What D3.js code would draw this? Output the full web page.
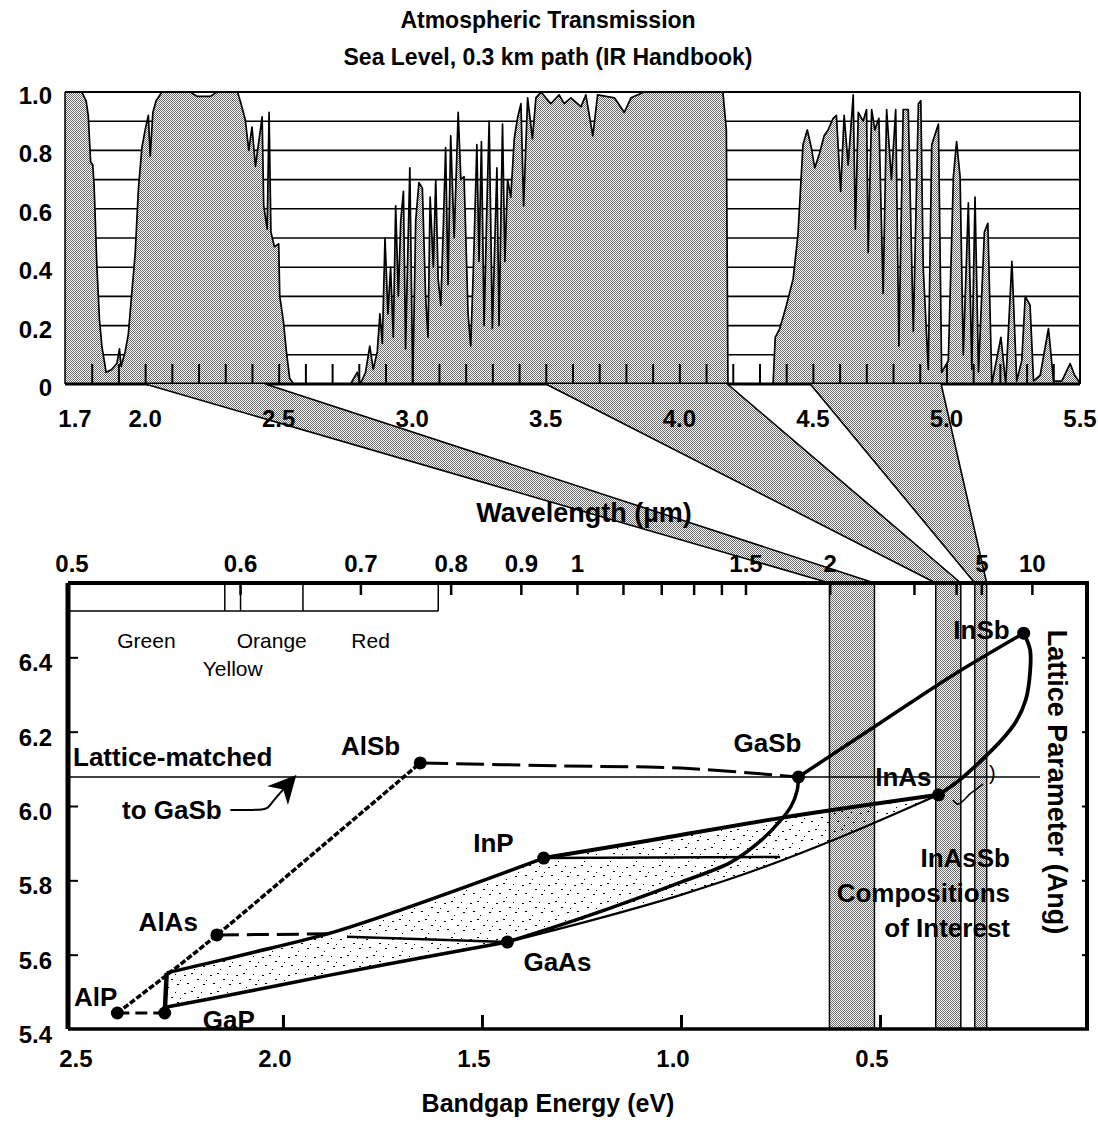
<!DOCTYPE html>
<html>
<head>
<meta charset="utf-8">
<script src="https://cdn.jsdelivr.net/npm/d3@7"></script>
<style>
  body { margin: 0; background: #fff; }
  svg { display: block; }
  text { font-family: "Liberation Sans", Arial, sans-serif; font-weight: bold; fill: #000; }
</style>
</head>
<body>
<svg id="chart" width="1098" height="1128"></svg>
<script>
// ---- top panel: atmospheric transmission ----
var wavelength = [1.700,1.763,1.779,1.787,1.796,1.804,1.809,1.819,1.829,1.838,1.854,1.875,1.894,1.904,1.910,1.925,1.937,1.950,1.963,1.975,
  1.988,2.000,2.012,2.019,2.029,2.041,2.063,2.169,2.194,2.244,2.269,2.346,2.359,2.375,2.388,2.400,2.413,2.438,2.444,2.457,
  2.464,2.471,2.484,2.500,2.504,2.517,2.529,2.541,2.556,2.769,2.794,2.806,2.825,2.841,2.854,2.869,2.879,2.888,2.898,2.909,
  2.919,2.929,2.938,2.948,2.957,2.967,2.975,2.991,3.002,3.013,3.025,3.038,3.050,3.059,3.067,3.079,3.088,3.097,3.107,3.117,
  3.125,3.134,3.144,3.157,3.172,3.182,3.194,3.209,3.219,3.229,3.242,3.250,3.259,3.269,3.279,3.288,3.300,3.317,3.325,3.338,
  3.347,3.357,3.369,3.382,3.394,3.407,3.417,3.432,3.450,3.463,3.482,3.519,3.550,3.569,3.594,3.632,3.650,3.676,3.694,3.757,
  3.794,3.819,3.869,4.163,4.176,4.182,4.351,4.359,4.376,4.401,4.426,4.444,4.463,4.479,4.494,4.507,4.525,4.542,4.557,4.576,
  4.588,4.604,4.617,4.632,4.651,4.659,4.670,4.688,4.701,4.707,4.720,4.732,4.747,4.763,4.776,4.794,4.810,4.822,4.838,4.857,
  4.876,4.895,4.904,4.913,4.932,4.945,4.970,4.982,5.007,5.026,5.038,5.051,5.063,5.082,5.095,5.107,5.120,5.142,5.155,5.170,
  5.204,5.222,5.245,5.263,5.282,5.295,5.313,5.326,5.351,5.382,5.401,5.432,5.463,5.480,5.495,5.500];
var transmission = [1.00,1.00,0.97,0.92,0.76,0.75,0.68,0.41,0.22,0.13,0.04,0.05,0.07,0.12,0.06,0.11,0.17,0.31,0.45,0.67,
  0.81,0.87,0.92,0.78,0.93,0.97,1.00,1.00,0.985,0.985,1.00,1.00,0.96,0.905,0.80,0.88,0.745,0.915,0.61,0.53,
  0.93,0.52,0.47,0.48,0.30,0.22,0.11,0.02,0.00,0.00,0.04,0.00,0.04,0.13,0.05,0.11,0.24,0.14,0.50,0.24,
  0.40,0.16,0.61,0.30,0.56,0.66,0.12,0.74,0.00,0.56,0.69,0.67,0.30,0.16,0.64,0.40,0.70,0.36,0.27,0.56,
  0.81,0.34,0.85,0.50,0.93,0.70,0.71,0.24,0.13,0.40,0.82,0.42,0.83,0.20,0.59,0.90,0.19,0.74,0.20,0.89,
  0.42,0.70,0.64,0.84,0.91,0.96,0.61,0.98,0.84,0.98,1.00,0.96,0.99,0.96,0.98,0.95,0.99,0.85,0.99,0.98,
  0.93,0.98,1.00,1.00,0.87,0.00,0.00,0.16,0.19,0.27,0.36,0.51,0.82,0.87,0.81,0.74,0.79,0.85,0.87,0.91,
  0.92,0.66,0.92,0.75,0.99,0.53,0.93,0.90,0.94,0.45,0.94,0.87,0.91,0.31,0.94,0.70,0.94,0.13,0.94,0.94,
  0.18,0.96,0.97,0.40,0.05,0.82,0.89,0.04,0.08,0.71,0.83,0.71,0.10,0.62,0.05,0.64,0.04,0.52,0.55,0.00,
  0.16,0.00,0.42,0.01,0.08,0.30,0.27,0.01,0.03,0.19,0.01,0.01,0.07,0.03,0.01,0.00];
var topTickLabels = [1.7, 2.0, 2.5, 3.0, 3.5, 4.0, 4.5, 5.0, 5.5];
var topYLabels = [0, 0.2, 0.4, 0.6, 0.8, 1.0];

// transmission windows (um) and the matching bandgap bands (eV)
var windowsUm = [[2.0, 2.45], [3.5, 4.18], [4.49, 4.98]];
var bandsEV = [[0.627, 0.514], [0.36, 0.297], [0.262, 0.232]];

// ---- bottom panel: bandgap vs lattice parameter ----
var compounds = ["AlP", "GaP", "AlAs", "AlSb", "InP", "GaAs", "GaSb", "InAs", "InSb"];
var gapEV = [2.416, 2.297, 2.166, 1.655, 1.345, 1.436, 0.705, 0.353, 0.139];
var latticeA = [5.443, 5.443, 5.653, 6.116, 5.860, 5.634, 6.078, 6.030, 6.465];

var curveAlAsSb = [[2.416,5.443],[2.285,5.551],[2.166,5.653],[1.907,5.887],[1.655,6.116]];
var curveAlGaP = [[2.416,5.443],[2.297,5.443]];
var curveGaPstep = [[2.297,5.443],[2.292,5.551]];
var curveAlGaAsDash = [[2.166,5.653],[1.882,5.656]];
var curveAlGaAsSolid = [[1.839,5.648],[1.436,5.634]];
var curveAlGaSb = [[1.655,6.116],[1.302,6.108],[1.0,6.102],[0.705,6.078]];
var curveUpper = [[2.292,5.551],[2.083,5.604],[1.882,5.658],[1.705,5.720],[1.529,5.787],[1.345,5.860]];
var curveInPInAs = [[1.345,5.860],[1.076,5.908],[0.748,5.968],[0.353,6.030]];
var curveInPMatched = [[1.345,5.860],[0.751,5.863]];
var curveLower = [[2.292,5.459],[2.083,5.502],[1.882,5.545],[1.655,5.591],[1.436,5.634]];
var curveGaInAs = [[1.436,5.634],[1.202,5.699],[1.0,5.761],[0.798,5.833],[0.597,5.917],[0.353,6.030]];
var curveGaAsSb = [[1.436,5.634],[1.302,5.680],[1.176,5.726],[1.0,5.795],[0.874,5.849],[0.798,5.908],[0.753,5.957],[0.723,6.000],[0.708,6.043],[0.705,6.078]];
var curveGaInSb = [[0.705,6.078],[0.496,6.226],[0.320,6.350],[0.139,6.465]];
var curveInAsSb = [[0.139,6.465],[0.123,6.420],[0.123,6.360],[0.134,6.285],[0.159,6.226],[0.194,6.178],[0.244,6.124],[0.300,6.070],[0.353,6.030]];
var curveSquiggle = [[0.317,6.016],[0.304,6.005],[0.271,6.035],[0.241,6.059]];
var latticeMatchLine = [[2.537,6.078],[0.098,6.078]];
var arrowPts = [[2.132,5.989],[2.037,6.000],[1.971,6.078]];

var energyTicks = [2.0, 1.5, 1.0, 0.5];
var energyLabels = [2.5, 2.0, 1.5, 1.0, 0.5];
var latticeTicks = [5.6, 5.8, 6.0, 6.2, 6.4];
var latticeLabels = [5.4, 5.6, 5.8, 6.0, 6.2, 6.4];
var wlTicks = [0.6, 0.7, 0.8, 0.9, 1, 1.1, 1.2, 1.3, 1.4, 1.5, 2, 3, 4, 5, 10];
var wlLabels = [0.5, 0.6, 0.7, 0.8, 0.9, 1, 1.5, 2, 5, 10];
var colorEdges = [0.589, 0.6, 0.648, 0.784];
var colorNames = ["Green", "Yellow", "Orange", "Red"];

var svg = d3.select("#chart");
var defs = svg.append("defs");

// stippled fill like the scanned halftone
var pat = defs.append("pattern").attr("id", "stip").attr("width", 2).attr("height", 2)
    .attr("patternUnits", "userSpaceOnUse");
pat.append("rect").attr("width", 2).attr("height", 2).attr("fill", "#fff");
pat.append("rect").attr("x", 0).attr("y", 0).attr("width", 1).attr("height", 1).attr("fill", "#6a6a6a");
pat.append("rect").attr("x", 1).attr("y", 1).attr("width", 1).attr("height", 1).attr("fill", "#6a6a6a");

var sp = defs.append("pattern").attr("id", "sparse").attr("width", 26).attr("height", 18)
    .attr("patternUnits", "userSpaceOnUse");
[[2,3,2,1],[9,1,2,1],[15,7,2,1],[21,12,2,1],[5,11,2,1],[12,15,1,1],[19,2,1,1],[24,8,1,1]].forEach(function (r) {
  sp.append("rect").attr("x", r[0]).attr("y", r[1]).attr("width", r[2]).attr("height", r[3]).attr("fill", "#000");
});

defs.append("marker").attr("id", "arrowhead").attr("viewBox", "0 0 10 10").attr("refX", 9).attr("refY", 5)
    .attr("markerWidth", 28).attr("markerHeight", 28).attr("markerUnits", "userSpaceOnUse")
    .attr("orient", "auto")
  .append("path").attr("d", "M0,0 L10,5 L0,10 L3,5 Z").attr("fill", "#000");

// ---------------- top panel ----------------
var xT = d3.scaleLinear().domain([1.7, 5.5]).range([65, 1080]);
var yT = d3.scaleLinear().domain([0, 1]).range([384, 92]);
var spec = wavelength.map(function (w, i) { return [w, transmission[i]]; });

svg.append("text").attr("x", 548).attr("y", 28).attr("text-anchor", "middle")
    .style("font-size", "23px").text("Atmospheric Transmission");
svg.append("text").attr("x", 548).attr("y", 65).attr("text-anchor", "middle")
    .style("font-size", "23px").text("Sea Level, 0.3 km path (IR Handbook)");

var topG = svg.append("g");
topG.selectAll("line.grid").data(d3.range(1, 10).map(function (i) { return i / 10; }))
  .enter().append("line").attr("class", "grid")
    .attr("x1", xT(1.7)).attr("x2", xT(5.5))
    .attr("y1", function (d) { return yT(d); }).attr("y2", function (d) { return yT(d); })
    .attr("stroke", "#000").attr("stroke-width", 1.6);

topG.append("path").datum(spec)
    .attr("d", d3.area().x(function (d) { return xT(d[0]); }).y0(yT(0)).y1(function (d) { return yT(d[1]); }))
    .attr("fill", "url(#stip)");
topG.append("path").datum(spec)
    .attr("d", d3.line().x(function (d) { return xT(d[0]); }).y(function (d) { return yT(d[1]); }))
    .attr("fill", "none").attr("stroke", "#000").attr("stroke-width", 1.7).attr("stroke-linejoin", "round");

// frame
topG.append("line").attr("x1", xT(1.7)).attr("x2", xT(5.5)).attr("y1", yT(1)).attr("y2", yT(1))
    .attr("stroke", "#000").attr("stroke-width", 2);
topG.append("line").attr("x1", xT(1.7)).attr("x2", xT(5.5)).attr("y1", yT(0)).attr("y2", yT(0))
    .attr("stroke", "#000").attr("stroke-width", 3);
topG.append("line").attr("x1", xT(5.5)).attr("x2", xT(5.5)).attr("y1", yT(1)).attr("y2", yT(0))
    .attr("stroke", "#000").attr("stroke-width", 2);
topG.append("line").attr("x1", xT(1.7)).attr("x2", xT(1.7)).attr("y1", yT(1)).attr("y2", yT(0))
    .attr("stroke", "#000").attr("stroke-width", 1.5);

var xTicksTop = d3.axisTop(xT).tickValues(d3.range(18, 55).map(function (i) { return i / 10; }))
    .tickSize(20).tickFormat("");
var gxT = topG.append("g").attr("transform", "translate(0," + yT(0) + ")").call(xTicksTop);
gxT.select(".domain").remove();
gxT.selectAll("line").attr("stroke", "#000").attr("stroke-width", 2);

topG.selectAll("text.ylab").data(topYLabels).enter().append("text").attr("class", "ylab")
    .attr("x", 52).attr("y", function (d) { return yT(d) + 12; })
    .attr("text-anchor", "end").style("font-size", "24px")
    .text(function (d) { return d === 0 ? "0" : d.toFixed(1); });

// ---------------- wedges between panels ----------------
var xE = d3.scaleLinear().domain([2.54, -0.02]).range([68, 1087]);
var yA = d3.scaleLinear().domain([5.4, 6.6]).range([1029, 583]);
var xW = d3.scaleLinear().domain([2.49, -0.01]).range([68, 1087]);
function wlX(um) { return xW(1.24 / um); }

var wedges = svg.append("g");
windowsUm.forEach(function (w, i) {
  var b = bandsEV[i];
  var pts = [[xT(w[0]), yT(0)], [xT(w[1]), yT(0)], [xE(b[1]), yA(6.6)], [xE(b[0]), yA(6.6)]];
  wedges.append("path").attr("d", "M" + pts.join("L") + "Z")
      .attr("fill", "url(#stip)").attr("stroke", "none");
  wedges.append("line").attr("x1", pts[0][0]).attr("y1", pts[0][1]).attr("x2", pts[3][0]).attr("y2", pts[3][1])
      .attr("stroke", "#000").attr("stroke-width", 1.6);
  wedges.append("line").attr("x1", pts[1][0]).attr("y1", pts[1][1]).attr("x2", pts[2][0]).attr("y2", pts[2][1])
      .attr("stroke", "#000").attr("stroke-width", 1.6);
});

svg.selectAll("text.xlabT").data(topTickLabels).enter().append("text").attr("class", "xlabT")
    .attr("x", function (d, i) { return xT(d) + (i === 0 ? 10 : 0); }).attr("y", 427)
    .attr("text-anchor", "middle").style("font-size", "24px")
    .text(function (d) { return d.toFixed(1); });

svg.append("text").attr("x", 584).attr("y", 522).attr("text-anchor", "middle")
    .style("font-size", "27px").text("Wavelength (\u00b5m)");

// ---------------- bottom panel ----------------
var bot = svg.append("g");

// wavelength windows as vertical bands
bandsEV.forEach(function (b) {
  bot.append("rect").attr("x", xE(b[0])).attr("y", yA(6.6))
      .attr("width", xE(b[1]) - xE(b[0])).attr("height", yA(5.4) - yA(6.6))
      .attr("fill", "url(#stip)").attr("stroke", "#000").attr("stroke-width", 1.5);
});

// colour strip
var stripRight = wlX(colorEdges[colorEdges.length - 1]);
bot.append("line").attr("x1", xE(2.54)).attr("x2", stripRight).attr("y1", 611).attr("y2", 611)
    .attr("stroke", "#000").attr("stroke-width", 1.5);
colorEdges.forEach(function (c) {
  bot.append("line").attr("x1", wlX(c)).attr("x2", wlX(c)).attr("y1", yA(6.6)).attr("y2", 611)
      .attr("stroke", "#000").attr("stroke-width", 1.5);
});
var colorSpans = [[xE(2.54), wlX(colorEdges[0])], [wlX(colorEdges[0]), wlX(colorEdges[1])],
                  [wlX(colorEdges[1]), wlX(colorEdges[2])], [wlX(colorEdges[2]), wlX(colorEdges[3])]];
colorNames.forEach(function (n, i) {
  bot.append("text").attr("x", (colorSpans[i][0] + colorSpans[i][1]) / 2)
      .attr("y", n === "Yellow" ? 676 : 648).attr("text-anchor", "middle")
      .style("font-size", "21px").style("font-weight", "normal").text(n);
});

// dotted composition region
var regionPts = curveUpper.concat(curveInPInAs.slice(1), curveGaInAs.slice().reverse().slice(1), curveLower.slice().reverse());
var pxLine = d3.line().x(function (d) { return xE(d[0]); }).y(function (d) { return yA(d[1]); });
bot.append("path").attr("d", pxLine(regionPts) + "Z").attr("fill", "url(#sparse)");

// lattice-matched line
bot.append("path").attr("d", pxLine(latticeMatchLine)).attr("fill", "none")
    .attr("stroke", "#000").attr("stroke-width", 1.6);

var smooth = d3.line().x(function (d) { return xE(d[0]); }).y(function (d) { return yA(d[1]); })
    .curve(d3.curveCatmullRom.alpha(0.5));
var curveStyle = [
  [curveAlAsSb, 3.5, "6,2"],
  [curveAlGaP, 3, "12,6"],
  [curveGaPstep, 4.5, null],
  [curveAlGaAsDash, 3, "22,8"],
  [curveAlGaAsSolid, 2.5, null],
  [curveAlGaSb, 3, "28,8"],
  [curveUpper, 3.5, null],
  [curveInPInAs, 4, null],
  [curveInPMatched, 2.5, null],
  [curveLower, 3.5, null],
  [curveGaInAs, 2.2, null],
  [curveGaAsSb, 3.5, null],
  [curveGaInSb, 3.5, null],
  [curveInAsSb, 3.8, null],
  [curveSquiggle, 1.6, null]
];
curveStyle.forEach(function (c) {
  bot.append("path").attr("d", smooth(c[0])).attr("fill", "none")
      .attr("stroke", "#000").attr("stroke-width", c[1])
      .attr("stroke-dasharray", c[2]).attr("stroke-linecap", "butt");
});

bot.selectAll("circle.cmp").data(compounds).enter().append("circle").attr("class", "cmp")
    .attr("cx", function (d, i) { return xE(gapEV[i]); })
    .attr("cy", function (d, i) { return yA(latticeA[i]); })
    .attr("r", 6.5).attr("fill", "#000");

// compound labels, offset from their points
var labelOffset = {
  AlP: [0, -7, "end"], GaP: [38, 16, "start"], AlAs: [-19, -4, "end"], AlSb: [-20, -8, "end"],
  InP: [-30, -6, "end"], GaAs: [16, 29, "start"], GaSb: [3, -25, "end"], InAs: [-7, -9, "end"],
  InSb: [-14, 6, "end"]
};
bot.selectAll("text.cmp").data(compounds).enter().append("text").attr("class", "cmp")
    .attr("x", function (d, i) { return xE(gapEV[i]) + labelOffset[d][0]; })
    .attr("y", function (d, i) { return yA(latticeA[i]) + labelOffset[d][1]; })
    .attr("text-anchor", function (d) { return labelOffset[d][2]; })
    .style("font-size", "26px").text(function (d) { return d; });

bot.append("text").attr("x", xE(curveSquiggle[3][0]) + 6).attr("y", yA(curveSquiggle[3][1]) - 4)
    .style("font-size", "20px").style("font-weight", "normal").text(")");

bot.append("text").attr("x", 73).attr("y", 766).style("font-size", "26px").text("Lattice-matched");
bot.append("text").attr("x", 122).attr("y", 819).style("font-size", "26px").text("to GaSb");
bot.append("path").attr("d", d3.line().x(function (d) { return xE(d[0]); }).y(function (d) { return yA(d[1]); })
      .curve(d3.curveBasis)([arrowPts[0], [arrowPts[1][0], arrowPts[0][1]], arrowPts[1], arrowPts[2]]))
    .attr("fill", "none").attr("stroke", "#000").attr("stroke-width", 2)
    .attr("marker-end", "url(#arrowhead)");

["InAsSb", "Compositions", "of Interest"].forEach(function (t, i) {
  bot.append("text").attr("x", 1010).attr("y", 867 + i * 35).attr("text-anchor", "end")
      .style("font-size", "26px").text(t);
});

// axes frame
bot.append("line").attr("x1", 68).attr("x2", 1089).attr("y1", yA(6.6)).attr("y2", yA(6.6))
    .attr("stroke", "#000").attr("stroke-width", 4);
bot.append("line").attr("x1", 68).attr("x2", 1089).attr("y1", yA(5.4)).attr("y2", yA(5.4))
    .attr("stroke", "#000").attr("stroke-width", 3.5);
bot.append("line").attr("x1", 68).attr("x2", 68).attr("y1", yA(6.6)).attr("y2", yA(5.4))
    .attr("stroke", "#000").attr("stroke-width", 5);
bot.append("line").attr("x1", 1087).attr("x2", 1087).attr("y1", yA(6.6)).attr("y2", yA(5.4))
    .attr("stroke", "#000").attr("stroke-width", 4);

var gxB = bot.append("g").attr("transform", "translate(0," + yA(5.4) + ")")
    .call(d3.axisTop(xE).tickValues(energyTicks).tickSize(14).tickFormat(""));
gxB.select(".domain").remove();
gxB.selectAll("line").attr("stroke", "#000").attr("stroke-width", 3);

var gyL = bot.append("g").attr("transform", "translate(68,0)")
    .call(d3.axisRight(yA).tickValues(latticeTicks).tickSize(10).tickFormat(""));
gyL.select(".domain").remove();
gyL.selectAll("line").attr("stroke", "#000").attr("stroke-width", 2);

var gyR = bot.append("g").attr("transform", "translate(1087,0)")
    .call(d3.axisLeft(yA).tickValues(latticeTicks).tickSize(5).tickFormat(""));
gyR.select(".domain").remove();
gyR.selectAll("line").attr("stroke", "#000").attr("stroke-width", 2);

bot.selectAll("line.wlt").data(wlTicks).enter().append("line").attr("class", "wlt")
    .attr("x1", function (d) { return wlX(d); }).attr("x2", function (d) { return wlX(d); })
    .attr("y1", yA(6.6)).attr("y2", yA(6.6) + 12)
    .attr("stroke", "#000").attr("stroke-width", 2.5);

bot.selectAll("text.wll").data(wlLabels).enter().append("text").attr("class", "wll")
    .attr("x", function (d) { return d === 0.5 ? 72 : wlX(d); }).attr("y", 572)
    .attr("text-anchor", "middle").style("font-size", "24px")
    .text(function (d) { return String(d); });

bot.selectAll("text.el").data(energyLabels).enter().append("text").attr("class", "el")
    .attr("x", function (d) { return xE(d) - 8; }).attr("y", 1067)
    .attr("text-anchor", "middle").style("font-size", "24px")
    .text(function (d) { return d.toFixed(1); });

bot.selectAll("text.al").data(latticeLabels).enter().append("text").attr("class", "al")
    .attr("x", 52).attr("y", function (d) { return yA(d) + 14; })
    .attr("text-anchor", "end").style("font-size", "24px")
    .text(function (d) { return d.toFixed(1); });

bot.append("text").attr("x", 548).attr("y", 1112).attr("text-anchor", "middle")
    .style("font-size", "25px").text("Bandgap Energy (eV)");
bot.append("text").attr("transform", "translate(1048,782) rotate(90)").attr("text-anchor", "middle")
    .style("font-size", "27px").text("Lattice Parameter (Ang)");
</script>
</body>
</html>
